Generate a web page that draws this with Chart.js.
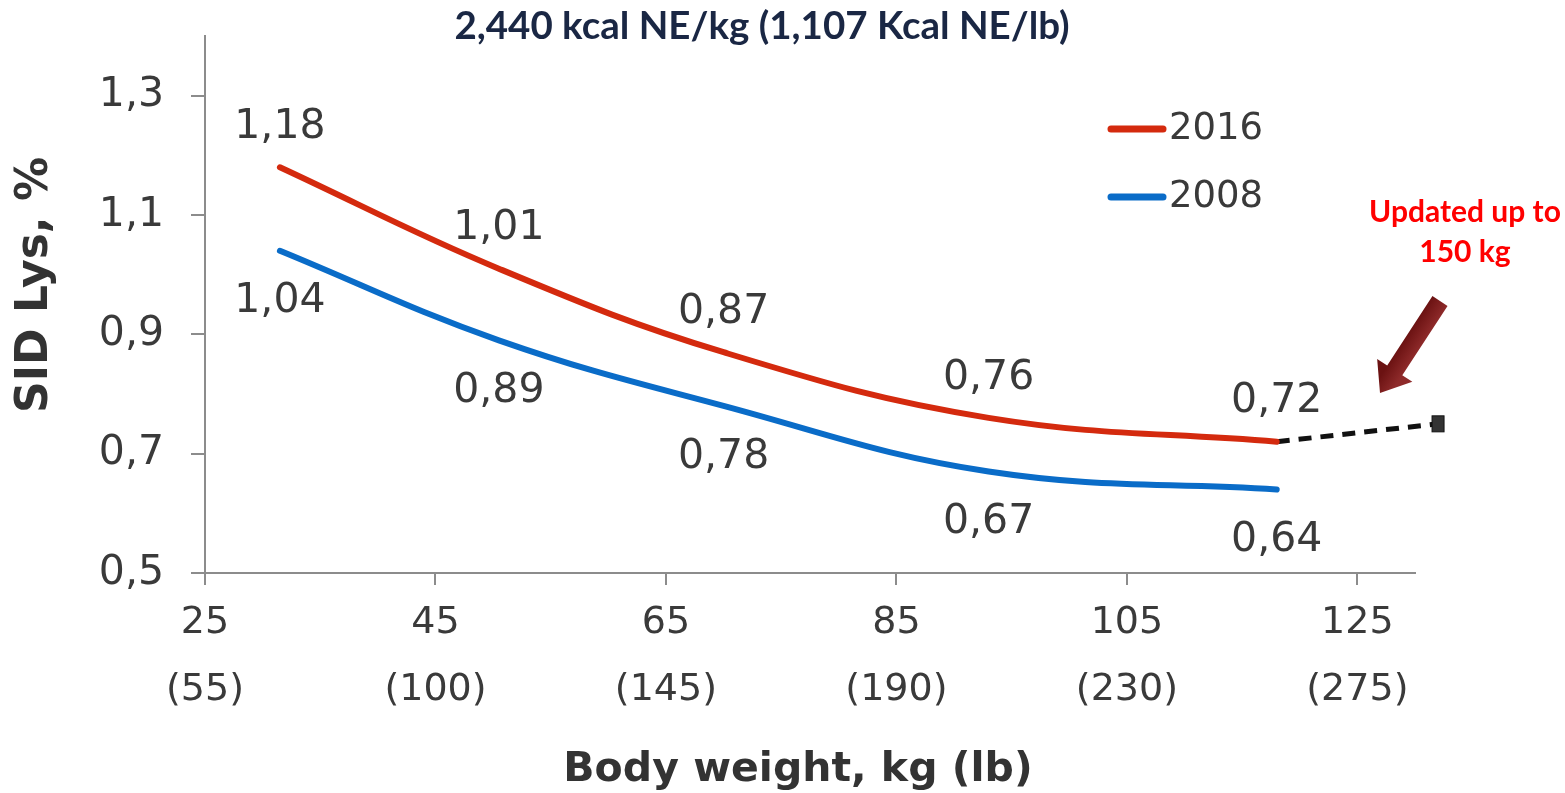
<!DOCTYPE html>
<html>
<head>
<meta charset="utf-8">
<script src="https://cdn.jsdelivr.net/npm/chart.js@4.4.1/dist/chart.umd.min.js"></script>
<style>
  html, body { margin: 0; padding: 0; background: #ffffff; }
  #wrap { position: relative; width: 1565px; height: 793px; }
</style>
</head>
<body>
<div id="wrap"><canvas id="c" width="1565" height="793"></canvas></div>
<script>
// ---- Data ----
const weights = [31.5, 50.5, 70, 93, 118];
const lys2016 = [1.18, 1.01, 0.87, 0.76, 0.72];
const lys2008 = [1.04, 0.89, 0.78, 0.67, 0.64];
const extWeights = [118, 132];
const extLys = [0.72, 0.75];
const xTickKg = [25, 45, 65, 85, 105, 125];
const xTickLb = ['(55)', '(100)', '(145)', '(190)', '(230)', '(275)'];
const yTicks = [0.5, 0.7, 0.9, 1.1, 1.3];
const seriesNames = ['2016', '2008'];
const chartTitle = '2,440 kcal NE/kg (1,107 Kcal NE/lb)';
const yTitle = 'SID Lys, %';
const xTitle = 'Body weight, kg (lb)';
const noteLines = ['Updated up to', '150 kg'];

const RED = '#D42A0E';
const BLUE = '#0A6CC8';
const AXIS = '#8C8C8C';
const TXT = '#3A3A3A';

const pts = (xs, ys) => xs.map((x, i) => ({x: x, y: ys[i]}));
const fmt = (v, d) => v.toFixed(d).replace('.', ',');

const overlay = {
  id: 'overlay',
  afterDatasetsDraw(chart) {
    const ctx = chart.ctx;
    const ca = chart.chartArea;
    ctx.save();
    // end marker of the extension line (drawn outside the plot area)
    chart.data.datasets.forEach((ds, di) => {
      if (!ds.endMarker) return;
      const meta = chart.getDatasetMeta(di);
      const el = meta.data[meta.data.length - 1];
      ctx.fillStyle = '#333333';
      ctx.strokeStyle = '#111111';
      ctx.lineWidth = 1;
      ctx.fillRect(el.x - 6, el.y - 8, 12, 16);
      ctx.strokeRect(el.x - 6, el.y - 8, 12, 16);
    });
    // data labels
    chart.data.datasets.forEach((ds, di) => {
      if (!ds.labelPos) return;
      const meta = chart.getDatasetMeta(di);
      ctx.font = '41px "DejaVu Sans"';
      ctx.fillStyle = TXT;
      ctx.textAlign = 'center';
      ctx.textBaseline = 'middle';
      meta.data.forEach((el, i) => {
        const v = ds.data[i].y;
        const y = ds.labelPos === 'above' ? el.y - 40 : el.y + 51;
        ctx.fillText(fmt(v, 2), el.x, y);
      });
    });
    // chart title
    ctx.font = 'bold 38.5px Lato';
    ctx.fillStyle = '#1A2744';
    ctx.textAlign = 'center';
    ctx.textBaseline = 'middle';
    ctx.fillText(chartTitle, 762, 27);
    // axis titles
    ctx.font = 'bold 41px "DejaVu Sans"';
    ctx.fillStyle = '#333333';
    ctx.fillText(xTitle, (ca.left + ca.right) / 2 - 12, 770);
    ctx.save();
    ctx.font = 'bold 44px "DejaVu Sans"';
    ctx.translate(36, 285);
    ctx.rotate(-Math.PI / 2);
    ctx.fillText(yTitle, 0, 0);
    ctx.restore();
    // legend
    const legendItems = [[RED, 129], [BLUE, 197]];
    legendItems.forEach((it, i) => {
      ctx.strokeStyle = it[0];
      ctx.lineWidth = 7;
      ctx.lineCap = 'round';
      ctx.beginPath();
      ctx.moveTo(1111, it[1]);
      ctx.lineTo(1163, it[1]);
      ctx.stroke();
      ctx.font = '37px "DejaVu Sans"';
      ctx.fillStyle = TXT;
      ctx.textAlign = 'left';
      ctx.fillText(seriesNames[i], 1169, it[1]);
    });
    // note
    ctx.font = 'bold 30px Lato';
    ctx.fillStyle = '#FF0000';
    ctx.textAlign = 'center';
    ctx.fillText(noteLines[0], 1465, 212);
    ctx.fillText(noteLines[1], 1465, 252);
    // arrow
    const T = {x: 1440, y: 301}, P = {x: 1380, y: 393};
    const dx = P.x - T.x, dy = P.y - T.y, L = Math.hypot(dx, dy);
    const ux = dx / L, uy = dy / L, nx = -uy, ny = ux;
    const sw = 9, hw = 21, hl = 27;
    const B = {x: P.x - ux * hl, y: P.y - uy * hl};
    const g = ctx.createLinearGradient(T.x + nx * sw, T.y + ny * sw, T.x - nx * sw, T.y - ny * sw);
    g.addColorStop(0, '#6B1212');
    g.addColorStop(1, '#8E2A2A');
    ctx.fillStyle = g;
    ctx.beginPath();
    ctx.moveTo(T.x + nx * sw, T.y + ny * sw);
    ctx.lineTo(B.x + nx * sw, B.y + ny * sw);
    ctx.lineTo(B.x + nx * hw, B.y + ny * hw);
    ctx.lineTo(P.x, P.y);
    ctx.lineTo(B.x - nx * hw, B.y - ny * hw);
    ctx.lineTo(B.x - nx * sw, B.y - ny * sw);
    ctx.lineTo(T.x - nx * sw, T.y - ny * sw);
    ctx.closePath();
    ctx.fill();
    ctx.restore();
  }
};

new Chart(document.getElementById('c'), {
  type: 'line',
  data: {
    datasets: [
      {
        label: seriesNames[1],
        data: pts(weights, lys2008),
        borderColor: BLUE,
        borderWidth: 6,
        borderCapStyle: 'round',
        tension: 0.4,
        pointRadius: 0,
        labelPos: 'below'
      },
      {
        label: seriesNames[0],
        data: pts(weights, lys2016),
        borderColor: RED,
        borderWidth: 6,
        borderCapStyle: 'round',
        tension: 0.4,
        pointRadius: 0,
        labelPos: 'above'
      },
      {
        label: 'ext',
        data: pts(extWeights, extLys),
        borderColor: '#111111',
        borderWidth: 5,
        borderDash: [13, 9],
        tension: 0,
        clip: false,
        pointRadius: 0,
        endMarker: true
      }
    ]
  },
  options: {
    responsive: false,
    animation: false,
    events: [],
    layout: { padding: { top: 36, right: 150, left: 0, bottom: 0 } },
    plugins: { legend: { display: false }, tooltip: { enabled: false }, title: { display: false } },
    scales: {
      x: {
        type: 'linear',
        min: 25,
        max: 130,
        afterFit(s) { s.height = 220; s.paddingLeft = 0; s.paddingRight = 0; },
        afterBuildTicks(s) { s.ticks = xTickKg.map(v => ({value: v})); },
        border: { display: true, color: AXIS, width: 2 },
        grid: { drawOnChartArea: false, drawTicks: true, tickLength: 12, color: AXIS, lineWidth: 2 },
        ticks: {
          color: TXT,
          font: { family: 'DejaVu Sans', size: 38, lineHeight: 1.76 },
          padding: 5,
          maxRotation: 0,
          autoSkip: false,
          callback: (v) => { const i = xTickKg.indexOf(v); return i < 0 ? '' : [String(v), xTickLb[i]]; }
        }
      },
      y: {
        type: 'linear',
        min: 0.5,
        max: 1.4,
        afterFit(s) { s.width = 205; s.paddingTop = 0; s.paddingBottom = 0; },
        afterBuildTicks(s) { s.ticks = yTicks.map(v => ({value: v})); },
        border: { display: true, color: AXIS, width: 2 },
        grid: { drawOnChartArea: false, drawTicks: true, tickLength: 14, color: AXIS, lineWidth: 2 },
        ticks: {
          color: TXT,
          font: { family: 'DejaVu Sans', size: 41 },
          padding: 27,
          autoSkip: false,
          callback: (v) => fmt(v, 1)
        }
      }
    }
  },
  plugins: [overlay]
});
</script>
</body>
</html>
